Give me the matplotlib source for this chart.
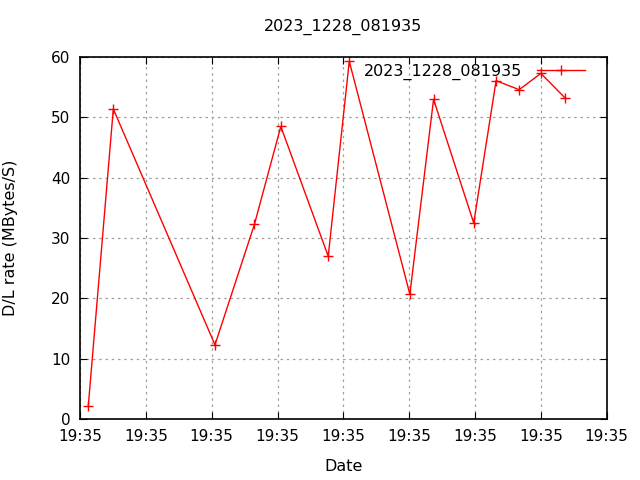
import matplotlib
matplotlib.use('Agg')
from matplotlib import pyplot as plt

# seconds after 19:35:00
secs = [0.63, 2.53, 10.25, 13.25, 15.25, 18.85, 20.45, 25.05, 26.85, 29.9, 31.6, 33.35, 35.0, 36.85]
rate = [2.2, 51.4, 12.3, 32.3, 48.5, 27.0, 59.3, 20.7, 53.0, 32.5, 56.1, 54.6, 57.3, 53.2]
tick_secs = [0, 5, 10, 15, 20, 25, 30, 35, 40]
tick_labels = ['19:35'] * len(tick_secs)
run_name = '2023_1228_081935'


def main():
    plt.rcParams['font.family'] = 'DejaVu Sans'
    fig = plt.figure(figsize=(6.4, 4.8), dpi=100)
    ax = fig.add_subplot(111)
    plt.subplots_adjust(left=0.125, right=0.948, top=0.881, bottom=0.127)

    ax.plot(secs, rate, color='red', linewidth=1, marker='+', markersize=7,
            markeredgewidth=1, label=run_name)

    ax.set_xlim(0, 40)
    ax.set_ylim(0, 60)
    ax.set_xticks(tick_secs)
    ax.set_xticklabels(tick_labels)
    ax.set_yticks(range(0, 61, 10))
    ax.tick_params(direction='in', top=True, right=True, labelsize=11, length=5, pad=7)
    ax.grid(True, linestyle=(0, (2, 3)), color='#a0a0a0', linewidth=0.9)
    for s in ax.spines.values():
        s.set_linewidth(1.2)

    ax.set_title(run_name, fontsize=11.5, pad=19)
    ax.set_xlabel('Date', fontsize=11.5, labelpad=11)
    ax.set_ylabel('D/L rate (MBytes/S)', fontsize=11.5, labelpad=24)

    ax.legend(loc='upper right', bbox_to_anchor=(0.958, 0.982), frameon=False,
              markerfirst=False, handlelength=3.0, handletextpad=0.9,
              borderpad=0, borderaxespad=0, fontsize=11.5)

    fig.savefig('out.png', dpi=100)


if __name__ == '__main__':
    main()
